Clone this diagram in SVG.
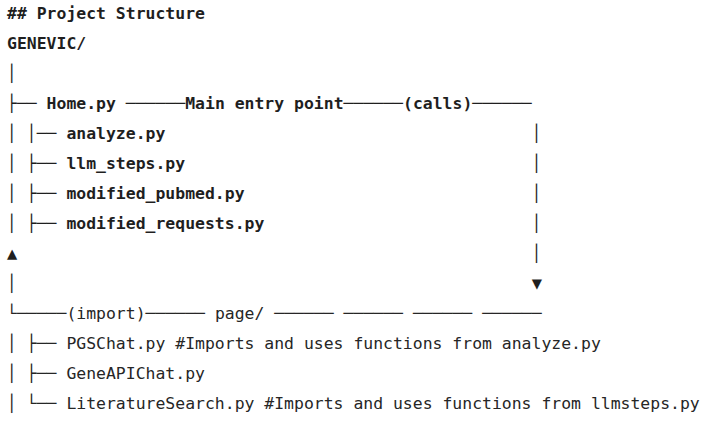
<svg xmlns="http://www.w3.org/2000/svg" width="714" height="423" viewBox="0 0 714 423" xml:space="preserve">
<style>
  text { font-family: "DejaVu Sans Mono", "Liberation Mono", monospace; font-size: 16.44px; fill: #1f1f1f; white-space: pre; }
  .b { font-weight: bold; }
  .r { font-weight: normal; fill: #262626; }
  .tri { font-size: 17px; }
</style>
<rect width="714" height="423" fill="#ffffff"/>

<g id="title"><text class="b" x="7" y="19">## Project Structure</text></g>
<g id="root"><text class="b" x="7" y="49">GENEVIC/</text></g>
<g id="home"><text class="b" x="46.6" y="109">Home.py</text></g>
<g id="analyze"><text class="b" x="66.4" y="139">analyze.py</text></g>
<g id="llm_steps"><text class="b" x="66.4" y="169">llm_steps.py</text></g>
<g id="modified_pubmed"><text class="b" x="66.4" y="199">modified_pubmed.py</text></g>
<g id="modified_requests"><text class="b" x="66.4" y="229">modified_requests.py</text></g>
<g id="page"><text class="r" x="214.9" y="319">page/</text></g>
<g id="pgschat"><text class="r" x="66.4" y="349">PGSChat.py #Imports and uses functions from analyze.py</text></g>
<g id="geneapichat"><text class="r" x="66.4" y="379">GeneAPIChat.py</text></g>
<g id="literaturesearch"><text class="r" x="66.4" y="409">LiteratureSearch.py #Imports and uses functions from llmsteps.py</text></g>

<g id="connectors">
  <!-- root trunk -->
  <text class="b" x="7" y="79">│</text>
  <text class="b" x="7" y="109">├──</text>
  <text class="b" x="7" y="139">│</text>
  <text class="b" x="7" y="169">│</text>
  <text class="b" x="7" y="199">│</text>
  <text class="b" x="7" y="229">│</text>
  <text class="b tri" x="7" y="258.5">▲</text>
  <text class="b" x="7" y="289">│</text>
  <text class="r" x="7" y="319">└─────</text>
  <text class="r" x="7" y="349">│</text>
  <text class="r" x="7" y="379">│</text>
  <text class="r" x="7" y="409">│</text>
  <!-- Home.py branches -->
  <text class="b" x="26.8" y="139">│──</text>
  <text class="b" x="26.8" y="169">├──</text>
  <text class="b" x="26.8" y="199">├──</text>
  <text class="b" x="26.8" y="229">├──</text>
  <!-- page branches -->
  <text class="r" x="26.8" y="349">├──</text>
  <text class="r" x="26.8" y="379">├──</text>
  <text class="r" x="26.8" y="409">└──</text>
  <!-- Home.py calls line -->
  <text class="b" x="125.8" y="109">──────</text>
  <text class="b" x="185.2" y="109">Main entry point</text>
  <text class="b" x="343.6" y="109">──────</text>
  <text class="b" x="403" y="109">(calls)</text>
  <text class="b" x="472.3" y="109">──────</text>
  <text class="b" x="531.7" y="139">│</text>
  <text class="b" x="531.7" y="169">│</text>
  <text class="b" x="531.7" y="199">│</text>
  <text class="b" x="531.7" y="229">│</text>
  <text class="b" x="531.7" y="259">│</text>
  <text class="b tri" x="531.7" y="288.5">▼</text>
  <!-- import line -->
  <text class="r" x="66.4" y="319">(import)</text>
  <text class="r" x="145.6" y="319">──────</text>
  <text class="r" x="274.3" y="319">──────</text>
  <text class="r" x="343.6" y="319">──────</text>
  <text class="r" x="412.9" y="319">──────</text>
  <text class="r" x="482.2" y="319">──────</text>
</g>
</svg>
